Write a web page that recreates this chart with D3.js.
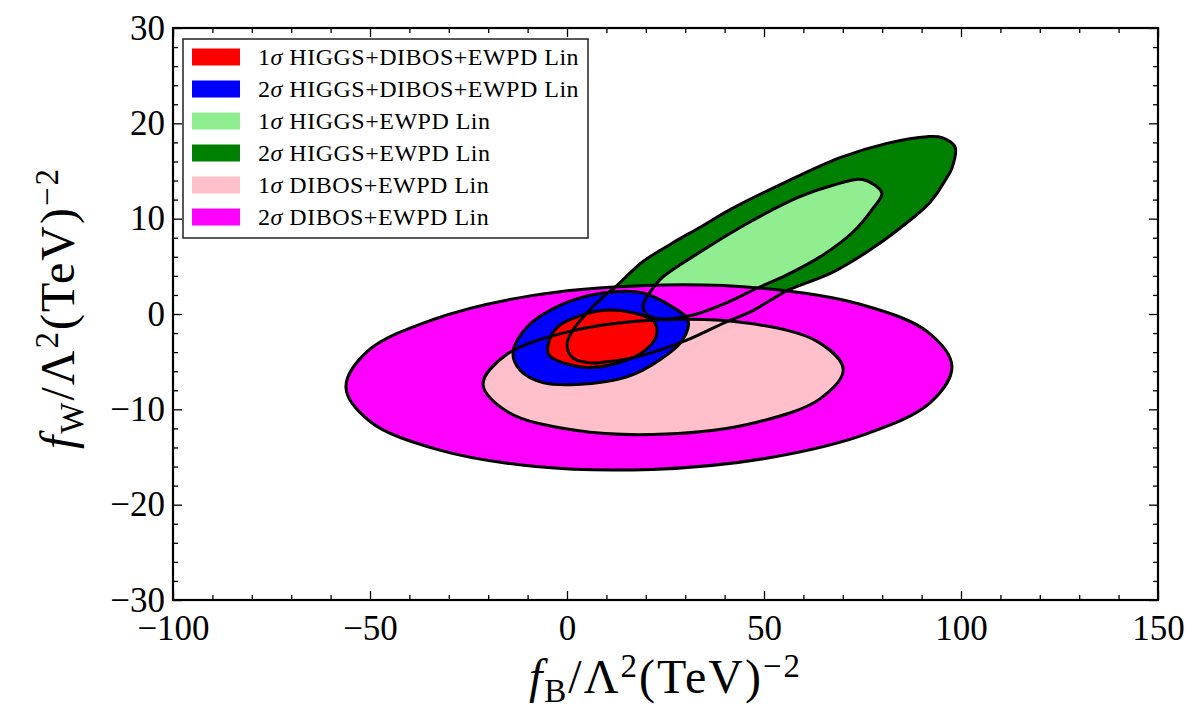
<!DOCTYPE html>
<html lang="en">

<head>
    <meta charset="UTF-8">
    <title>fB vs fW contours</title>
    <script src="https://unpkg.com/d3@7.8.0/dist/d3.min.js"></script>
    <style>
        body {
            margin: 0px;
            background: #fff;
        }

        text {
            font-family: "Liberation Serif", "DejaVu Serif", serif;
            fill: #000;
        }
    </style>
</head>

<body>
    <script>
        // contour outlines, [fB, fW]
        const dibos2 = [[97.7, -5.5], [92.2, -9.3], [75.8, -12.6], [51.0, -15.1], [21.6, -16.3], [-7.9, -16.0],
        [-33.0, -14.2], [-49.9, -11.3], [-56.1, -7.7], [-50.6, -3.9], [-34.1, -0.6], [-9.4, 1.9],
        [20.0, 3.0], [49.5, 2.7], [74.6, 1.0], [91.6, -1.9]];

        const dibos1 = [[70.1, -5.8], [64.2, -8.9], [47.7, -11.4], [25.0, -12.6], [2.1, -12.2], [-14.9, -10.3],
        [-21.3, -7.4], [-15.5, -4.3], [1.0, -1.8], [23.8, -0.6], [46.7, -1.0], [63.6, -2.9]];

        const higgs2 = [[0, -3.25], [1.3, -1.8], [4.6, -0.1], [8.9, 1.7], [11.9, 2.7], [19.3, 5.5], [26.6, 7.4],
        [33.8, 9.1], [42.1, 11.1], [54.8, 13.7], [69.3, 16.4], [81.2, 17.9], [91.4, 18.6], [95.2, 18.5],
        [98.5, 17.5], [97.7, 15.3], [96.4, 14.3], [92.1, 11.7], [84.5, 9.0], [76.1, 6.5], [67.5, 4.4],
        [59.1, 3.0], [56.1, 2.5], [46.4, 0.2], [40.6, -0.8], [30.7, -2.7], [24.9, -3.6], [16.5, -4.6],
        [8.4, -5.1], [5.3, -5.1], [1.5, -4.6]];

        const higgs1 = [[21.1, 2.3], [24.1, 3.8], [33.8, 6.5], [46.4, 9.65], [59.1, 12.3], [67.5, 13.5],
        [75.1, 14.1], [79.9, 12.7], [77.7, 11.1], [72.6, 8.6], [65, 6.2], [55.8, 4.1], [48.2, 2.7],
        [40.6, 1.2], [32, -0.1], [23.6, -0.5], [20.1, 0.0], [19.3, 0.9]];

        const comb2 = [[-13.7, -4.1], [-10.2, -1.4], [-1.8, 0.9], [9.1, 2.2], [19.3, 2.2], [26.9, 0.7],
        [30.7, -0.6], [29.4, -2.7], [23.6, -4.8], [15.2, -6.6], [2.5, -7.4], [-6.1, -7.2], [-11.9, -5.9]];

        const comb1 = [[-4.8, -3.25], [-2.5, -1.4], [2.5, -0.3], [9.4, 0.4], [16, 0.2], [22.1, -0.8],
        [22.6, -2.4], [18.5, -4.2], [10.9, -5.35], [5.1, -5.6], [-1.8, -5.0], [-4.6, -4.3]];

        const legendLabels = ['1σ HIGGS+DIBOS+EWPD Lin', '2σ HIGGS+DIBOS+EWPD Lin', '1σ HIGGS+EWPD Lin',
            '2σ HIGGS+EWPD Lin', '1σ DIBOS+EWPD Lin', '2σ DIBOS+EWPD Lin'];
        const legendColors = ['#ff0000', '#0000ff', '#90ee90', '#008000', '#ffc0cb', '#ff00ff'];

        const xMajor = [-100, -50, 0, 50, 100, 150];
        const yMajor = [-30, -20, -10, 0, 10, 20, 30];

        const width = 1192, height = 708;
        const margin = { top: 28, right: 34, bottom: 108, left: 173 };
        const innerwidth = width - margin.left - margin.right;
        const innerheight = height - margin.top - margin.bottom;

        const svg = d3.select('body').append('svg')
            .attr('width', width)
            .attr('height', height);

        const g = svg.append('g')
            .attr('transform', `translate(${margin.left},${margin.top})`);

        const xScale = d3.scaleLinear().domain([-100, 150]).range([0, innerwidth]);
        const yScale = d3.scaleLinear().domain([-30, 30]).range([innerheight, 0]);

        const line = d3.line()
            .x(d => xScale(d[0]))
            .y(d => yScale(d[1]))
            .curve(d3.curveCatmullRomClosed.alpha(0.5));

        // fills first (greens sit under the DIBOS ellipses), outlines on top of everything
        const layers = [
            { pts: higgs2, fill: '#008000' },
            { pts: higgs1, fill: '#90ee90' },
            { pts: dibos2, fill: '#ff00ff' },
            { pts: dibos1, fill: '#ffc0cb' },
            { pts: comb2, fill: '#0000ff' },
            { pts: comb1, fill: '#ff0000' }
        ];

        g.selectAll('.fill').data(layers).enter().append('path')
            .attr('class', 'fill')
            .attr('d', d => line(d.pts))
            .attr('fill', d => d.fill);

        g.selectAll('.outline').data(layers).enter().append('path')
            .attr('class', 'outline')
            .attr('d', d => line(d.pts))
            .attr('fill', 'none')
            .attr('stroke', '#000')
            .attr('stroke-width', 3)
            .attr('stroke-linejoin', 'round');

        // ticks, all pointing inward
        const fmt = d => d < 0 ? '\u2212' + Math.abs(d) : String(d);
        const xMinor = d3.range(-100, 151, 10).filter(v => !xMajor.includes(v));
        const yMinor = d3.range(-30, 31, 2).filter(v => !yMajor.includes(v));

        function tickAxis(axis, transform) {
            const a = g.append('g').attr('transform', transform).call(axis);
            a.select('.domain').remove();
            a.selectAll('.tick line').attr('stroke', '#000').attr('stroke-width', 1.3);
            return a;
        }

        const xb = tickAxis(d3.axisBottom(xScale).tickValues(xMajor).tickSize(-9).tickSizeOuter(0)
            .tickPadding(15).tickFormat(fmt), `translate(0,${innerheight})`);
        xb.selectAll('.tick text').style('font-size', '35px');
        tickAxis(d3.axisBottom(xScale).tickValues(xMinor).tickSize(-5).tickFormat(''), `translate(0,${innerheight})`);
        tickAxis(d3.axisTop(xScale).tickValues(xMajor).tickSize(-9).tickFormat(''), 'translate(0,0)');
        tickAxis(d3.axisTop(xScale).tickValues(xMinor).tickSize(-5).tickFormat(''), 'translate(0,0)');

        const yl = tickAxis(d3.axisLeft(yScale).tickValues(yMajor).tickSize(-9).tickSizeOuter(0)
            .tickPadding(8).tickFormat(fmt), 'translate(0,0)');
        yl.selectAll('.tick text').style('font-size', '35px');
        tickAxis(d3.axisLeft(yScale).tickValues(yMinor).tickSize(-5).tickFormat(''), 'translate(0,0)');
        tickAxis(d3.axisRight(yScale).tickValues(yMajor).tickSize(-9).tickFormat(''), `translate(${innerwidth},0)`);
        tickAxis(d3.axisRight(yScale).tickValues(yMinor).tickSize(-5).tickFormat(''), `translate(${innerwidth},0)`);

        g.append('rect')
            .attr('width', innerwidth)
            .attr('height', innerheight)
            .attr('fill', 'none')
            .attr('stroke', '#000')
            .attr('stroke-width', 2.2);

        // axis titles
        function axisTitle(sel, sub) {
            sel.append('tspan').attr('font-style', 'italic').text('f');
            sel.append('tspan').attr('font-size', '33px').attr('dy', 9).text(sub);
            sel.append('tspan').attr('dy', -9).text('/\u039B');
            sel.append('tspan').attr('font-size', '33px').attr('dy', -16).text('2');
            sel.append('tspan').attr('dy', 16).text('(TeV)');
            sel.append('tspan').attr('font-size', '33px').attr('dy', -16).text('\u22122');
        }

        const xTitle = svg.append('text')
            .attr('x', margin.left + innerwidth / 2)
            .attr('y', 693)
            .attr('text-anchor', 'middle')
            .style('font-size', '48px')
            .style('letter-spacing', '2px');
        axisTitle(xTitle, 'B');

        const yTitle = svg.append('text')
            .attr('transform', `translate(74,${margin.top + innerheight / 2 - 6}) rotate(-90)`)
            .attr('text-anchor', 'middle')
            .style('font-size', '48px')
            .style('letter-spacing', '2px');
        axisTitle(yTitle, 'W');

        // legend
        const legend = g.append('g').attr('transform', 'translate(10,11)');
        legend.append('rect')
            .attr('width', 405)
            .attr('height', 199)
            .attr('fill', '#fff')
            .attr('stroke', '#222')
            .attr('stroke-width', 1.5);

        const rows = legend.selectAll('.row').data(legendLabels).enter().append('g')
            .attr('class', 'row')
            .attr('transform', (d, i) => `translate(0,${18 + i * 32})`);
        rows.append('rect')
            .attr('x', 9)
            .attr('y', -8.5)
            .attr('width', 48)
            .attr('height', 17)
            .attr('fill', (d, i) => legendColors[i]);
        const labels = rows.append('text')
            .attr('x', 75)
            .attr('dy', '0.35em')
            .style('font-size', '24px')
            .style('letter-spacing', '0.5px');
        labels.append('tspan').text(d => d.slice(0, 1));
        labels.append('tspan').attr('font-style', 'italic').text(d => d.slice(1, 2));
        labels.append('tspan').text(d => d.slice(2));
    </script>
</body>

</html>
